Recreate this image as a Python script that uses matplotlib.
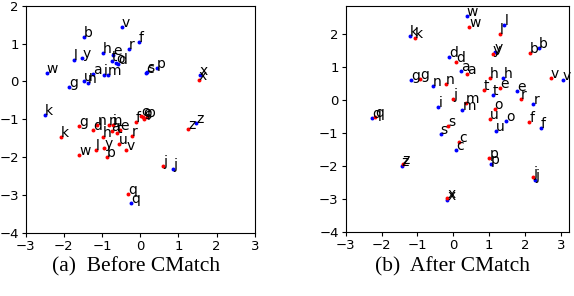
import matplotlib
matplotlib.use("Agg")
import matplotlib.pyplot as plt

# panel (a): before CMatch
a_blue_lab = ["v", "b", "f", "r", "h", "e", "t", "o", "d", "l", "y", "w", "a", "i", "m",
              "g", "u", "n", "s", "c", "p", "x", "k", "q", "z", "j"]
a_blue_x = [-0.49, -1.47, -0.03, -0.29, -0.97, -0.72, -0.75, -0.64, -0.58, -1.74, -1.52, -2.45,
            -1.23, -0.95, -0.85, -1.87, -1.47, -1.38, 0.18, 0.15, 0.43, 1.56, -2.49, -0.24, 1.46, 0.87]
a_blue_y = [1.45, 1.17, 1.05, 0.85, 0.76, 0.70, 0.55, 0.50, 0.47, 0.56, 0.62, 0.22,
            0.20, 0.18, 0.18, -0.15, 0.02, -0.03, 0.26, 0.22, 0.35, 0.18, -0.89, -3.22, -1.10, -2.30]

a_red_lab = ["k", "g", "w", "l", "y", "b", "u", "v", "r", "f", "q", "d", "n", "m", "i",
             "h", "a", "e", "t", "c", "s", "p", "o", "z", "j", "x"]
a_red_x = [-2.08, -1.60, -1.60, -1.16, -0.94, -0.88, -0.55, -0.37, -0.21, -0.12, -0.31, -1.23, -1.12,
           -0.82, -0.71, -0.97, -0.75, -0.53, -0.62, 0.02, 0.10, 0.18, 0.07, 1.26, 0.60, 1.53]
a_red_y = [-1.47, -1.17, -1.95, -1.80, -1.75, -1.99, -1.65, -1.82, -1.43, -1.07, -2.96, -1.27, -1.14,
           -1.16, -1.14, -1.47, -1.30, -1.27, -1.36, -0.92, -0.98, -0.95, -0.93, -1.25, -2.24, 0.03]

# panel (b): after CMatch
b_blue_lab = ["k", "g", "q", "w", "l", "y", "d", "a", "b", "v", "h", "t", "e", "r", "n",
              "i", "m", "o", "u", "f", "s", "c", "p", "j", "x", "z"]
b_blue_x = [-1.21, -1.18, -2.27, 0.37, 1.42, 1.16, -0.11, 0.21, 2.39, 3.05, 1.39, 1.10, 1.78,
            2.23, -0.56, -0.42, 0.25, 1.47, 1.19, 2.44, -0.35, 0.08, 1.04, 2.28, -0.17, -1.44]
b_blue_y = [1.95, 0.61, -0.55, 2.55, 2.27, 1.46, 1.31, 0.89, 1.59, 0.61, 0.69, 0.17, 0.28,
            -0.10, 0.42, -0.20, -0.30, -0.63, -0.93, -0.83, -1.01, -1.52, -1.94, -2.42, -3.03, -1.99]

b_red_lab = ["k", "g", "q", "w", "l", "y", "d", "a", "b", "v", "h", "t", "e", "r", "n",
             "j", "m", "o", "u", "f", "s", "c", "p", "j", "x", "z"]
b_red_x = [-1.07, -0.93, -2.18, 0.44, 1.30, 1.09, 0.08, 0.37, 2.14, 2.71, 1.02, 0.84, 1.30,
           1.89, -0.20, 0.00, 0.35, 1.15, 1.02, 2.12, -0.14, 0.17, 1.00, 2.23, -0.17, -1.41]
b_red_y = [1.89, 0.65, -0.52, 2.23, 2.02, 1.41, 1.16, 0.81, 1.43, 0.69, 0.68, 0.30, 0.38,
           0.05, 0.50, 0.05, -0.08, -0.26, -0.58, -0.66, -0.79, -1.26, -1.74, -2.32, -2.98, -1.95]

captions = ["(a)  Before CMatch", "(b)  After CMatch"]

fig = plt.figure(figsize=(5.74, 2.96), dpi=100)
ax1 = fig.add_axes([0.0448, 0.2128, 0.3991, 0.7679])
ax2 = fig.add_axes([0.6021, 0.2162, 0.3892, 0.7645])


def draw(ax, bl, bx, by, rl, rx, ry):
    ax.scatter(bx, by, s=8, c="blue", linewidths=0, zorder=3)
    ax.scatter(rx, ry, s=8, c="red", linewidths=0, zorder=3)
    for lab, x, y in zip(bl, bx, by):
        ax.text(x, y, lab, fontsize=10, zorder=4)
    for lab, x, y in zip(rl, rx, ry):
        ax.text(x, y, lab, fontsize=10, zorder=4)
    ax.tick_params(labelsize=9.5, length=3, width=0.8, pad=2)
    ax.set_yticks([-4, -3, -2, -1, 0, 1, 2])


draw(ax1, a_blue_lab, a_blue_x, a_blue_y, a_red_lab, a_red_x, a_red_y)
ax1.set_xlim(-3, 3)
ax1.set_ylim(-4, 2)
ax1.set_xticks([-3, -2, -1, 0, 1, 2, 3])

draw(ax2, b_blue_lab, b_blue_x, b_blue_y, b_red_lab, b_red_x, b_red_y)
ax2.set_xlim(-3, 3.22)
ax2.set_ylim(-4, 2.87)
ax2.set_xticks([-3, -2, -1, 0, 1, 2, 3])

fig.text(0.237, 0.098, captions[0], family="Liberation Serif", fontsize=15.5, ha="center", va="center")
fig.text(0.788, 0.098, captions[1], family="Liberation Serif", fontsize=15.5, ha="center", va="center")

fig.savefig("out.png", dpi=100)
